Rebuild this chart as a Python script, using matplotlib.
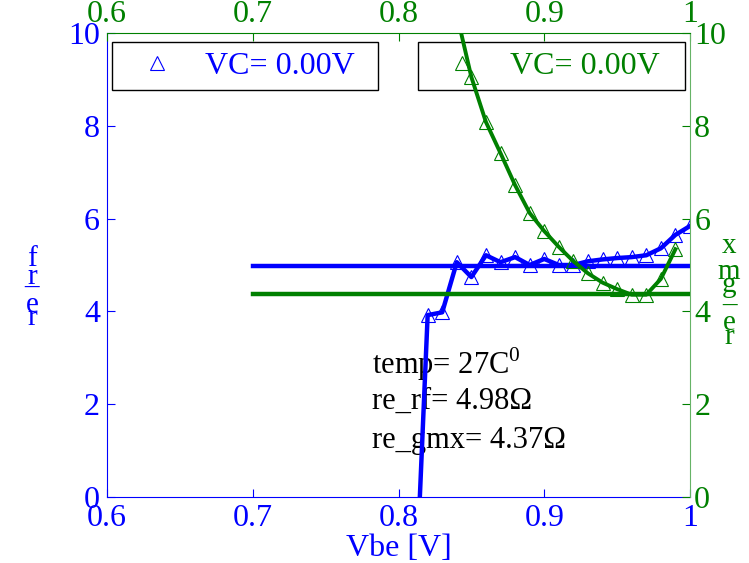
import matplotlib
matplotlib.use("Agg")
import matplotlib.pyplot as plt

plt.rcParams["font.family"] = ["Liberation Serif", "DejaVu Serif"]
plt.rcParams["mathtext.fontset"] = "custom"
plt.rcParams["mathtext.rm"] = "Liberation Serif"

BLUE = "#0000ff"
GREEN = "#008000"

# re_rf data (left / bottom axes)
vbe_rf = [0.81, 0.82, 0.83, 0.84, 0.85, 0.86, 0.87, 0.88, 0.89, 0.90,
          0.91, 0.92, 0.93, 0.94, 0.95, 0.96, 0.97, 0.98, 0.99, 1.00]
re_rf = [-3.4, 3.92, 3.98, 5.06, 4.74, 5.21, 5.06, 5.17, 5.00, 5.13,
         5.00, 5.00, 5.08, 5.12, 5.15, 5.17, 5.21, 5.36, 5.65, 5.84]
re_rf_mean = 4.98

# re_gmx data (right / top axes)
vbe_gmx = [0.84, 0.85, 0.86, 0.87, 0.88, 0.89, 0.90, 0.91, 0.92, 0.93,
           0.94, 0.95, 0.96, 0.97, 0.98, 0.99]
re_gmx = [10.4, 9.05, 8.08, 7.41, 6.72, 6.12, 5.73, 5.39, 5.08, 4.82,
          4.62, 4.48, 4.36, 4.36, 4.70, 5.34]
re_gmx_min = 4.37

ref_span = [0.7, 1.0]
x_ticks = [0.6, 0.7, 0.8, 0.9, 1.0]
x_ticklabels = ["0.6", "0.7", "0.8", "0.9", "1"]
y_ticks = [0, 2, 4, 6, 8, 10]

W, H = 749, 563
fig = plt.figure(figsize=(W / 100, H / 100), dpi=100)
pos = [107 / W, 1 - 497 / H, 583 / W, 464 / H]
ax = fig.add_axes(pos)
ax2 = fig.add_axes(pos)
ax2.patch.set_visible(False)

FS = 23

# left / bottom axes: re_rf
ax.plot(vbe_rf, re_rf, color=BLUE, lw=3.2, zorder=3)
ax.plot(vbe_rf, re_rf, ls="none", marker="^", ms=10, mfc="none", mec=BLUE,
        mew=0.8, zorder=4, label="VC= 0.00V")
ax.plot(ref_span, [re_rf_mean] * 2, color=BLUE, lw=3.2, zorder=3)
ax.set_xlim(0.6, 1.0)
ax.set_ylim(0, 10)
ax.set_xticks(x_ticks)
ax.set_xticklabels(x_ticklabels)
ax.set_yticks(y_ticks)
ax.tick_params(direction="in", length=6, colors=BLUE, labelsize=FS, pad=5)
for s in ["top", "right"]:
    ax.spines[s].set_visible(False)
for s in ["left", "bottom"]:
    ax.spines[s].set_color(BLUE)
ax.set_xlabel("Vbe [V]", color=BLUE, fontsize=FS, labelpad=1)

# right / top axes: re_gmx
ax2.plot(vbe_gmx, re_gmx, color=GREEN, lw=2.8, zorder=3)
ax2.plot(vbe_gmx[1:], re_gmx[1:], ls="none", marker="^", ms=10, mfc="none",
         mec=GREEN, mew=0.8, zorder=4, label="VC= 0.00V")
ax2.plot(ref_span, [re_gmx_min] * 2, color=GREEN, lw=3.2, zorder=3)
ax2.set_xlim(0.6, 1.0)
ax2.set_ylim(0, 10)
ax2.xaxis.tick_top()
ax2.yaxis.tick_right()
ax2.set_xticks(x_ticks)
ax2.set_xticklabels(x_ticklabels)
ax2.set_yticks(y_ticks)
ax2.tick_params(direction="in", length=6, colors=GREEN, labelsize=FS, pad=3)
for s in ["left", "bottom"]:
    ax2.spines[s].set_visible(False)
ax2.spines["top"].set_color(GREEN)
ax2.spines["right"].set_color("#66b366")

# legends
leg_kw = dict(loc="upper left", mode="expand", fontsize=FS, fancybox=False,
              edgecolor="black", framealpha=1, borderpad=0.3,
              handlelength=2.2, handletextpad=0.4, borderaxespad=0)
leg1 = ax.legend(bbox_to_anchor=(0.009, 0.981, 0.456, 0), labelcolor=BLUE, **leg_kw)
leg2 = ax2.legend(bbox_to_anchor=(0.533, 0.981, 0.458, 0), labelcolor=GREEN, **leg_kw)
for lg in (leg1, leg2):
    lg.get_frame().set_linewidth(1.0)
    lg.set_zorder(1)

# annotation block
TFS = 22
ax.text(0.782, 2.86, "temp= 27C$^0$", fontsize=TFS, va="center", zorder=1)
ax.text(0.782, 2.07, "re_rf= 4.98\u03a9", fontsize=TFS, va="center", zorder=1)
ax.text(0.782, 1.21, "re_gmx= 4.37\u03a9", fontsize=TFS, va="center", zorder=1)

# y labels drawn with upright, stacked glyphs
left_label = [("f", 259), ("r", 277), ("_", 278), ("e", 305), ("r", 318)]
right_label = [("x", 246), ("m", 272), ("g", 285), ("_", 296), ("e", 323), ("r", 337)]
for ch, ypx in left_label:
    fig.text(32 / W, 1 - ypx / H, ch, color=BLUE, fontsize=21, ha="center", va="center")
for ch, ypx in right_label:
    fig.text(729 / W, 1 - ypx / H, ch, color=GREEN, fontsize=21, ha="center", va="center")

fig.savefig("out.png", dpi=100)
